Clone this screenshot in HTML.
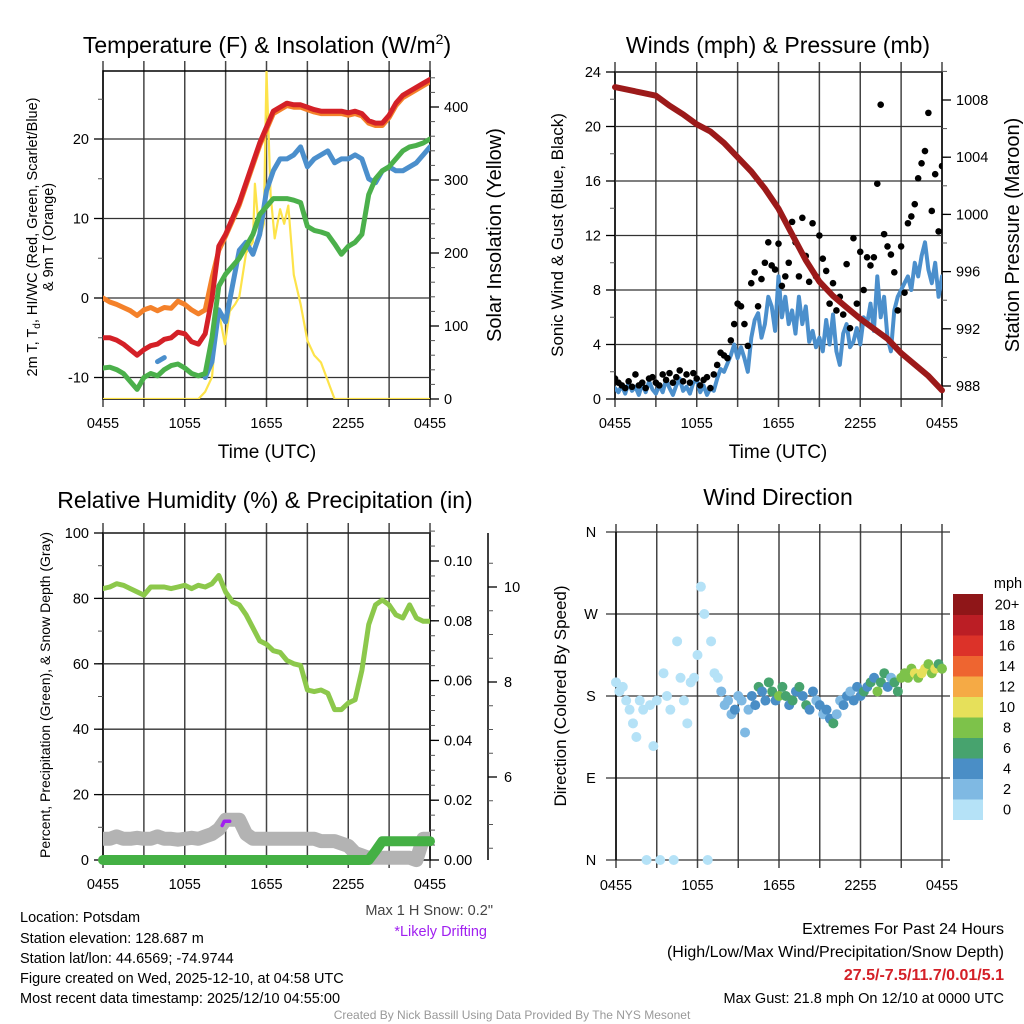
<!DOCTYPE html>
<html><head><meta charset="utf-8"><style>
html,body{margin:0;padding:0;background:#fff;}
svg{display:block;font-family:"Liberation Sans",sans-serif;}
</style></head><body>
<svg id="root" width="1024" height="1024" viewBox="0 0 1024 1024" xmlns="http://www.w3.org/2000/svg">
<defs>
<clipPath id="cTL"><rect x="103" y="71" width="327" height="328"/></clipPath>
<clipPath id="cTR"><rect x="615" y="72" width="327" height="327"/></clipPath>
<clipPath id="cBL"><rect x="103" y="533" width="327" height="335"/></clipPath>
</defs>
<g id="g"></g>
<g font-size="23" fill="#000" text-anchor="middle">
<text x="267" y="53">Temperature (F) &amp; Insolation (W/m<tspan font-size="14" dy="-9">2</tspan><tspan dy="9">)</tspan></text>
<text x="778" y="53">Winds (mph) &amp; Pressure (mb)</text>
<text x="265" y="508">Relative Humidity (%) &amp; Precipitation (in)</text>
<text x="778" y="505">Wind Direction</text>
</g>
<g fill="#000" text-anchor="middle">
<text x="267" y="458" font-size="19">Time (UTC)</text>
<text x="778" y="458" font-size="19">Time (UTC)</text>
<text transform="translate(37,237) rotate(-90)" font-size="14.5">2m T, T<tspan font-size="10" dy="3">d</tspan><tspan dy="-3">, HI/WC (Red, Green, Scarlet/Blue)</tspan></text>
<text transform="translate(53,237) rotate(-90)" font-size="14.5">&amp; 9m T (Orange)</text>
<text transform="translate(501,235) rotate(-90)" font-size="20">Solar Insolation (Yellow)</text>
<text transform="translate(563,235) rotate(-90)" font-size="17">Sonic Wind &amp; Gust (Blue, Black)</text>
<text transform="translate(1019,235) rotate(-90)" font-size="20">Station Pressure (Maroon)</text>
<text transform="translate(50,695) rotate(-90)" font-size="14">Percent, Precipitation (Green), &amp; Snow Depth (Gray)</text>
<text transform="translate(566,696) rotate(-90)" font-size="17">Direction (Colored By Speed)</text>
</g>
<g font-size="14.5" fill="#000">
<text x="20" y="922">Location: Potsdam</text>
<text x="20" y="943">Station elevation: 128.687 m</text>
<text x="20" y="963">Station lat/lon: 44.6569; -74.9744</text>
<text x="20" y="983">Figure created on Wed, 2025-12-10, at 04:58 UTC</text>
<text x="20" y="1003">Most recent data timestamp: 2025/12/10 04:55:00</text>
<text x="493" y="915" text-anchor="end" fill="#444">Max 1 H Snow: 0.2"</text>
<text x="487" y="936" text-anchor="end" fill="#a020f0">*Likely Drifting</text>
<text x="1004" y="934" text-anchor="end" font-size="16">Extremes For Past 24 Hours</text>
<text x="1004" y="957" text-anchor="end" font-size="16">(High/Low/Max Wind/Precipitation/Snow Depth)</text>
<text x="1004" y="980" text-anchor="end" font-size="16" font-weight="bold" fill="#d42027">27.5/-7.5/11.7/0.01/5.1</text>
<text x="1004" y="1003" text-anchor="end" font-size="14.5">Max Gust: 21.8 mph On 12/10 at 0000 UTC</text>
<text x="512" y="1019" text-anchor="middle" font-size="12" fill="#999">Created By Nick Bassill Using Data Provided By The NYS Mesonet</text>
</g>
</svg>
<script>
// ---------- data ----------
const xTickLabels = ["0455","1055","1655","2255","0455"];
const tempRed = [-5,-5,-5.3,-5.8,-6.5,-7.2,-6.5,-6,-5.8,-5.2,-5,-4.3,-4.5,-5.5,-5.8,-4.5,0,6.5,8,10,12,14.5,17,19.5,21.5,23.5,24,24.5,24.3,24.3,24,23.7,23.5,23.5,23.5,23.5,23.3,23.5,23.2,22.3,22,22,23,24.5,25.5,26,26.5,27,27.5];
const temp9m = [0,-0.5,-0.8,-1.2,-1.6,-2.2,-1.5,-1.2,-1.6,-1.2,-1.3,-0.4,-0.8,-1.5,-2,-1.5,2.5,6,7.8,9.7,11.7,14.2,16.7,19.2,21.2,23.2,23.7,24.2,24,24,23.7,23.4,23.2,23.2,23.2,23.2,23,23.2,22.9,22,21.7,21.7,22.7,24.2,25.2,25.7,26.2,26.7,27.2];
const dewpoint = [-8.8,-8.7,-9,-9.5,-10.5,-11.5,-10,-9.5,-9.8,-9,-8.5,-8.3,-8.8,-9.5,-9.8,-9.5,-5,1.5,3,4,5,6.5,8,10.5,11.5,12.5,12.5,12.5,12.3,12,9,8.5,8.3,8,6.8,5.5,6.5,7,8,13,15,16,16.5,17.5,18.5,19,19.2,19.5,20];
const windChill = [null,null,null,null,null,null,null,null,-8,-7.5,null,null,null,null,null,-10,-8,-1.5,-3,1.5,6,7,5.5,8,13.5,16,17.5,17.5,18,19,16.5,17.5,18,18.5,17,17.5,17.5,18,17.5,15,14.5,16,16.5,16,16,16.5,17,18,19];
const solarTime = [0,7,7.5,8,8.45,8.95,9.3,9.7,10,10.5,11,11.15,11.5,11.8,12,12.3,12.6,13,13.3,13.6,14,14.5,15,15.5,16,16.7,17,24];
const solarVal = [0,0,10,30,125,75,120,130,140,200,215,295,220,240,449,280,220,260,240,265,170,130,80,60,50,15,0,0];
const windSpeed = [0.8,0.5,1.0,0.4,1.2,0.6,0.9,0.3,1.1,0.5,1.3,0.7,0.4,1.0,0.5,1.4,0.8,0.3,1.0,1.5,0.6,0.9,0.4,1.2,1.4,0.5,1.0,0.3,0.8,0.6,
1.5,2.2,2.0,2.6,3.2,4.0,3.0,3.8,3.0,2.0,4.5,5.8,6.3,4.5,5.5,7.5,6.8,5.0,9.0,6.0,7.5,5.5,6.5,4.8,7.5,5.5,6.8,4.2,5.0,3.8,4.5,3.5,5.8,4.0,6.2,3.5,2.5,4.8,5.5,3.8,4.2,5.2,4.0,6.0,5.5,7.0,5.0,9.0,6.0,7.5,4.5,3.5,6.5,7.5,8.0,8.5,9.0,8.0,10.0,9.0,10.5,11.5,9.5,8.5,10.0,7.5,9.0];
const windGust = [1.5,1.2,1.0,0.8,1.3,0.9,1.8,1.0,1.2,0.8,1.5,1.6,1.2,1.0,1.8,1.4,1.9,1.2,1.6,2.1,1.3,1.8,1.2,1.9,1.5,1.0,1.4,1.6,0.8,1.8,
2.5,3.4,3.2,3.0,4.3,5.5,7.0,6.8,5.5,3.9,8.5,9.3,6.8,8.8,10.0,11.5,9.8,9.5,11.4,8.3,9.0,10.0,13.0,11.5,9.0,13.3,10.5,8.6,12.9,9.0,12.0,10.3,9.4,7.0,8.5,6.5,7.5,6.2,9.9,5.2,11.8,7.0,10.8,8.0,10.4,9.8,10.4,15.8,21.6,12.1,11.2,10.6,9.3,6.5,11.2,7.8,12.9,13.4,14.3,16.2,17.3,18.2,21.0,13.8,16.5,12.3,17.1];
const pressureTime = [0,2,3,4,5,6,7,8,9,10,11,12,13,14,15,16,17,18,19,20,21,22,23,24];
const pressureVal = [1008.9,1008.5,1008.3,1007.6,1007,1006.3,1005.8,1005,1004,1003,1001.8,1000.4,998.6,996.8,995.3,994.3,993.5,992.7,992,991.3,990.3,989.5,988.7,987.7];
const windDir = [195,185,190,175,165,150,135,175,165,0,170,125,175,0,205,180,165,0,240,200,175,150,195,200,225,300,270,0,240,205,
200,185,170,175,160,165,180,175,140,165,180,170,190,185,175,195,185,175,180,190,180,170,175,185,190,180,170,165,185,175,170,160,165,155,150,160,175,170,180,185,175,190,180,185,190,195,200,185,195,205,190,200,195,185,200,205,200,210,205,200,205,210,215,205,210,215,210];
const rhVal = [83,83.5,84.5,84,83,82,81,83.5,83.5,83.5,83,83.5,84,83,84,83.5,84.5,87,82,79,78,75,71,67,66,64,63.5,61,60,59.5,52,51.5,52,51,46,46,48,49,58,72,78,79.5,78,75,74,78,74,73,73];
const precipVal = [0,0,0,0,0,0,0,0,0,0,0,0,0,0,0,0,0,0,0,0,0,0,0,0,0,0,0,0,0,0,0,0,0,0,0,0,0,0,0,0,0.003,0.0063,0.0063,0.0063,0.0063,0.0063,0.0063,0.0063,0.0063];
const snowVal = [4.7,4.7,4.75,4.7,4.7,4.72,4.7,4.7,4.75,4.7,4.7,4.68,4.7,4.72,4.7,4.75,4.8,4.9,5.1,5.1,5.1,4.8,4.7,4.7,4.7,4.7,4.7,4.7,4.7,4.7,4.7,4.7,4.65,4.65,4.65,4.6,4.55,4.4,4.35,4.3,4.3,4.3,4.3,4.3,4.3,4.3,4.25,4.7,4.7];
const driftTime = [8.75,8.9,9.3];
const driftVal = [4.98,5.07,5.07];
const speedLabels = ["0","2","4","6","8","10","12","14","16","18","20+"];
const speedColors = ["#b5e2f7","#7fb9e3","#4a8ec6","#47a36e","#7dc24a","#e6e05a","#f5aa45","#ee6530","#dc3229","#bb1e25","#8f1618"];

// ---------- scales ----------
const xTL = t => 103 + t*327/24;
const yTemp = v => 298 - v*7.95;
const ySolar = w => 399 - w*0.73;
const xTR = t => 615 + t*327/24;
const yWind = v => 399 - v*13.625;
const yPres = p => 386 - (p-988)*14.3;
const yRH = v => 860 - v*3.27;
const yPrec = p => 860 - p*2990;
const ySnow = s => 587 + (10-s)*47.5;
const xBR = t => 616 + t*326/24;
const yDir = d => 860 - d*328/360;
const half = i => i*0.5;
const quarter = i => i*0.25;

const NS = "http://www.w3.org/2000/svg";
const G = document.getElementById('g');
function mk(tag, attrs, parent){
  const e = document.createElementNS(NS, tag);
  for (const k in attrs) e.setAttribute(k, attrs[k]);
  (parent||G).appendChild(e);
  return e;
}
function txt(x,y,s,size,anchor){
  const e = mk('text',{x:x,y:y,'font-size':size,'text-anchor':anchor,fill:'#000'});
  e.textContent = s;
  return e;
}
function pathFrom(ts, vs, fx, fy){
  let d = '', pen = false;
  for (let i=0;i<vs.length;i++){
    if (vs[i]===null){pen=false;continue;}
    d += (pen?'L':'M') + fx(ts(i)).toFixed(1) + ',' + fy(vs[i]).toFixed(1);
    pen = true;
  }
  return d;
}

// ---------- frame/grid helper ----------
function frame(x0,x1,y0,y1,name){
  const g = mk('g',{});
  
  
  for (let k=0;k<=8;k++){
    const x = x0 + k*(x1-x0)/8;
    const l = mk('line',{x1:x,y1:y0-10,x2:x,y2:y1+8,stroke:'#444','stroke-width':1.5},g);
    
    
  }
  for (let k=0;k<5;k++){
    const lab = txt(x0 + k*(x1-x0)/4, y1+29, xTickLabels[k], 14.5, 'middle');
    
    
  }
  const r = mk('rect',{x:x0,y:y0,width:x1-x0,height:y1-y0,fill:'none',stroke:'#000','stroke-width':1.5},g);
  
  
  return g;
}
function yAxis(x0,x1,vals,fy,labels,minorVals,name,side,grid){
  const g = mk('g',{});
  
  
  const ax = side==='left'?x0:x1, dir = side==='left'?-1:1;
  minorVals.forEach(v=>{
    const y=fy(v);
    const t = mk('line',{x1:ax,y1:y,x2:ax+dir*5,y2:y,stroke:'#555','stroke-width':1},g);
    
    
  });
  vals.forEach((v,i)=>{
    const y=fy(v);
    if (grid){
      const gl = mk('line',{x1:x0,y1:y,x2:x1,y2:y,stroke:'#333','stroke-width':1.3},g);
      
      
    }
    const t = mk('line',{x1:ax,y1:y,x2:ax+dir*9,y2:y,stroke:'#000','stroke-width':1.3},g);
    
    
    const lb = txt(ax+dir*14, y+5, labels[i], 14.5, side==='left'?'end':'start');
    
    
  });
  return g;
}
function range(a,b,s){const r=[];for(let v=a;v<=b+1e-9;v+=s)r.push(+v.toFixed(4));return r;}

// ---------- panel 1: temperature ----------
frame(103,430,71,399,'temp');
yAxis(103,430,[-10,0,10,20],yTemp,["-10","0","10","20"],range(-10,25,5),'temp-y-axis','left',true);
yAxis(103,430,[0,100,200,300,400],ySolar,["0","100","200","300","400"],range(0,440,20),'solar-y-axis','right',false);
const cTL = mk('g',{'clip-path':'url(#cTL)',fill:'none','stroke-linejoin':'round','stroke-linecap':'round'});


let p;
p = mk('path',{d:pathFrom(i=>solarTime[i],solarVal,xTL,ySolar),stroke:'#fde34a','stroke-width':2.2},cTL);


p = mk('path',{d:pathFrom(half,windChill,xTL,yTemp),stroke:'#4b8fcc','stroke-width':5},cTL);


p = mk('path',{d:pathFrom(half,dewpoint,xTL,yTemp),stroke:'#4bb04b','stroke-width':5},cTL);


p = mk('path',{d:pathFrom(half,temp9m,xTL,yTemp),stroke:'#f4812a','stroke-width':5},cTL);


p = mk('path',{d:pathFrom(half,tempRed,xTL,yTemp),stroke:'#d42027','stroke-width':5},cTL);



// ---------- panel 2: winds ----------
frame(615,942,72,399,'wind');
yAxis(615,942,[0,4,8,12,16,20,24],yWind,["0","4","8","12","16","20","24"],range(0,24,2),'wind-y-axis','left',true);
yAxis(615,942,[988,992,996,1000,1004,1008],yPres,["988","992","996","1000","1004","1008"],range(988,1010,2),'pressure-y-axis','right',false);
const cTR = mk('g',{'clip-path':'url(#cTR)','stroke-linejoin':'round','stroke-linecap':'round'});


p = mk('path',{d:pathFrom(quarter,windSpeed,xTR,yWind),stroke:'#4b8fcc','stroke-width':4,fill:'none'},cTR);


windGust.forEach((v,i)=>{
  const c = mk('circle',{cx:xTR(quarter(i)),cy:yWind(v),r:3.3,fill:'#000'},cTR);
  
  
});
p = mk('path',{d:pathFrom(i=>pressureTime[i],pressureVal,xTR,yPres),stroke:'#9c1a1a','stroke-width':6,fill:'none','stroke-linecap':'round'},G);



// ---------- panel 3: humidity ----------
frame(103,430,533,860,'rh');
yAxis(103,430,[0,20,40,60,80,100],yRH,["0","20","40","60","80","100"],range(0,100,10),'rh-y-axis','left',true);
yAxis(103,430,[0,0.02,0.04,0.06,0.08,0.10],yPrec,["0.00","0.02","0.04","0.06","0.08","0.10"],range(0,0.11,0.005),'precip-y-axis','right',false);
(function(){
  const g = mk('g',{});
  
  
  const l = mk('line',{x1:488,y1:533,x2:488,y2:860,stroke:'#000','stroke-width':1.5},g);
  
  
  range(4.5,10.5,0.5).forEach(v=>{
    const t = mk('line',{x1:488,y1:ySnow(v),x2:493,y2:ySnow(v),stroke:'#555','stroke-width':1},g);
    
    
  });
  [6,8,10].forEach(v=>{
    const t = mk('line',{x1:488,y1:ySnow(v),x2:497,y2:ySnow(v),stroke:'#000','stroke-width':1.3},g);
    
    
    const lb = txt(504,ySnow(v)+5,String(v),14.5,'start');
    
    
  });
})();
const cBL = mk('g',{'clip-path':'url(#cBL)',fill:'none','stroke-linejoin':'round','stroke-linecap':'round'});


p = mk('path',{d:pathFrom(half,snowVal,xTL,ySnow),stroke:'#b3b3b3','stroke-width':14},cBL);


p = mk('path',{d:pathFrom(i=>driftTime[i],driftVal,xTL,ySnow),stroke:'#a020f0','stroke-width':3.5},cBL);


p = mk('path',{d:pathFrom(half,precipVal,xTL,yPrec),stroke:'#44b044','stroke-width':10,fill:'none','stroke-linecap':'round','stroke-linejoin':'round'},G);


p = mk('path',{d:pathFrom(half,rhVal,xTL,yRH),stroke:'#8cc84b','stroke-width':5},cBL);



// ---------- panel 4: wind direction ----------
(function(){
  const g = mk('g',{});
  
  
  for (let k=0;k<=8;k++){
    const x = 616 + k*326/8;
    const l = mk('line',{x1:x,y1:524,x2:x,y2:868,stroke:'#444','stroke-width':1.5},g);
    
    
  }
  for (let k=0;k<5;k++){
    const lab = txt(616+k*326/4, 890, xTickLabels[k], 14.5, 'middle');
    
    
  }
  const dl = ["N","E","S","W","N"];
  [0,90,180,270,360].forEach((d,i)=>{
    const l = mk('line',{x1:606,y1:yDir(d),x2:950,y2:yDir(d),stroke:'#333','stroke-width':1.3},g);
    
    
    const lb = txt(591, yDir(d)+5, dl[i], 14.5, 'middle');
    
    
  });
  const ax = mk('line',{x1:616,y1:532,x2:616,y2:860,stroke:'#000','stroke-width':1.5},g);
  
  
})();
windDir.forEach((d,i)=>{
  const bin = Math.min(10, Math.floor(windSpeed[i]/2));
  const c = mk('circle',{cx:xBR(quarter(i)),cy:yDir(d),r:5,fill:speedColors[bin]});
  
  
});
(function(){
  const g = mk('g',{});
  
  
  const top=594, h=20.5;
  speedLabels.forEach((s,i)=>{
    const y = top + (10-i)*h;
    const r = mk('rect',{x:953,y:y,width:30,height:h+0.5,fill:speedColors[i]},g);
    
    
    const lb = txt(1007, y+h/2+5, s, 14.5, 'middle');
    
    
  });
  const u = txt(1008, 588, 'mph', 14.5, 'middle');
  
  
})();
</script>
</body></html>
